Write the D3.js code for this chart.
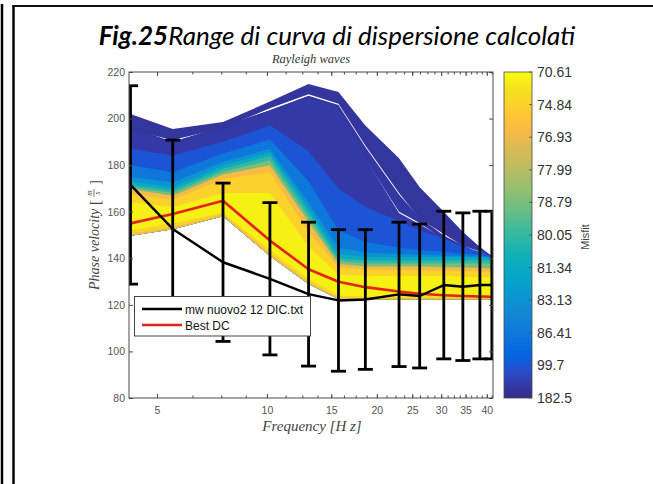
<!DOCTYPE html>
<html><head><meta charset="utf-8">
<script src="https://cdn.jsdelivr.net/npm/d3@7"></script>
<style>
html,body{margin:0;padding:0;background:#fff;}
svg{display:block;}
</style></head><body>
<svg id="chart" width="653" height="484"></svg>
<script>
// ---- data -------------------------------------------------------------
// sampled frequencies (Hz) of the experimental curve and the modelled curves
const frequencies = [4.23, 5.52, 7.58, 10.19, 13.0, 15.7, 18.6, 23.0, 26.2, 30.5, 34.4, 38.3, 41.3];
// experimental dispersion curve (mean +/- std), m/s
const dcMean = [171.5, 152.6, 138.3, 131.2, 124.6, 121.9, 122.3, 124.5, 123.8, 128.5, 127.8, 128.5, 128.5];
const dcStd  = [42.6, 38.2, 34.0, 32.7, 30.9, 30.4, 30.0, 31.0, 30.9, 31.7, 31.7, 31.7, 31.7];
// best fitting theoretical curve
const bestDC = [155.0, 159.0, 164.7, 147.6, 135.3, 129.9, 127.6, 125.7, 124.8, 124.1, 123.8, 123.6, 123.5];

// envelopes of the computed curves, grouped by misfit
const fanTopEdge     = [202.0, 195.5, 198.5, 207.3, 214.8, 211.4, 197.0, 183.0, 170.5, 160.0, 151.3, 144.8, 141.0];
const fanOuterLower  = [195.0, 190.8, 196.0, 204.4, 210.4, 206.4, 188.4, 168.0, 157.0, 150.4, 145.4, 142.9, 140.2];
const fanBodyTop     = [196.0, 190.0, 196.5, 203.6, 209.8, 205.8, 187.8, 167.4, 157.4, 149.8, 145.6, 142.4, 140.3];
const fanBundleLower = [195.0, 189.0, 195.5, 202.6, 208.6, 204.6, 182.5, 160.0, 155.2, 148.0, 143.5, 141.3, 139.0];
const fanInnerTop    = [196.0, 190.0, 196.5, 203.6, 209.6, 205.6, 183.0, 159.4, 154.6, 148.5, 144.0, 141.8, 139.4];
const fanBottom      = [149.7, 152.5, 158.0, 141.0, 129.0, 122.5, 122.3, 122.3, 122.3, 122.3, 122.3, 122.3, 122.3];
const top99_7  = [187.0, 184.0, 190.0, 197.0, 186.0, 170.0, 162.0, 156.0, 152.0, 148.5, 145.0, 142.8, 140.8];
const top86_41 = [180.0, 177.0, 185.0, 191.0, 173.0, 152.0, 147.0, 144.5, 143.5, 142.8, 142.0, 141.5, 140.6];
const top83_13 = [175.0, 172.5, 181.5, 187.0, 164.0, 144.5, 142.5, 141.8, 141.5, 141.2, 141.0, 140.8, 140.4];
const top81_34 = [173.0, 170.5, 180.0, 185.5, 161.8, 142.0, 140.5, 140.5, 140.5, 140.5, 140.5, 140.3, 140.2];
const top80_05 = [171.5, 169.2, 178.5, 184.0, 159.8, 140.0, 139.0, 139.0, 139.0, 139.0, 139.0, 139.2, 139.2];
const top78_79 = [170.5, 168.0, 177.2, 182.0, 157.6, 138.8, 137.8, 137.8, 137.8, 137.8, 137.8, 137.8, 137.8];
const top76_5  = [169.8, 166.9, 176.0, 180.0, 155.6, 137.5, 136.5, 136.5, 136.5, 136.2, 136.0, 135.8, 135.5];
const top74_84 = [167.5, 165.0, 174.0, 177.0, 151.5, 136.0, 135.2, 135.0, 135.0, 134.8, 134.5, 134.3, 134.0];
const bot74_84 = [150.5, 153.3, 158.8, 142.0, 129.8, 123.0, 122.8, 122.8, 122.8, 122.8, 122.8, 122.8, 122.8];
const top71_5  = [164.0, 162.0, 168.0, 168.0, 145.0, 133.0, 132.5, 132.5, 132.5, 132.5, 132.0, 132.0, 132.0];
const bot71_5  = [152.0, 155.0, 159.5, 143.5, 131.0, 124.0, 123.5, 123.5, 123.5, 123.5, 123.5, 123.5, 123.5];

// misfit value, upper envelope, lower envelope (drawn worst first)
const fanLayers = [
  [150,   fanInnerTop, fanBottom],
  [155,   fanBodyTop, fanBundleLower],
  [160,   fanTopEdge, fanOuterLower],
  [99.7,  top99_7,  fanBottom],
  [86.41, top86_41, fanBottom],
  [83.13, top83_13, fanBottom],
  [81.34, top81_34, fanBottom],
  [80.05, top80_05, fanBottom],
  [78.79, top78_79, fanBottom],
  [76.5,  top76_5,  fanBottom],
  [74.84, top74_84, bot74_84],
  [71.5,  top71_5,  bot71_5]
];

// axis ticks
const xTicks = [5, 10, 15, 20, 25, 30, 35, 40];
const xMinorTicks = d3.range(5, 41.5, 1.25);
const yTicks = [80, 100, 120, 140, 160, 180, 200, 220];
const colorbarTicks = [70.61, 74.84, 76.93, 77.99, 78.79, 80.05, 81.34, 83.13, 86.41, 99.7, 182.5];

// parula colour map stops
const parulaStops = [
  [0.000, [53, 42, 135]], [0.063, [50, 67, 186]], [0.095, [32, 83, 212]], [0.127, [3, 99, 225]],
  [0.190, [13, 117, 220]], [0.254, [20, 133, 212]], [0.317, [9, 152, 209]], [0.381, [6, 167, 198]],
  [0.444, [21, 177, 180]], [0.508, [56, 185, 158]], [0.571, [101, 190, 134]], [0.635, [146, 191, 115]],
  [0.698, [183, 189, 100]], [0.762, [217, 186, 86]], [0.825, [248, 187, 68]], [0.841, [253, 190, 61]],
  [0.889, [252, 206, 46]], [0.937, [245, 222, 33]], [0.968, [245, 235, 24]], [1.000, [249, 251, 14]]
];

// ---- scales -----------------------------------------------------------
const svg = d3.select('#chart');
const plot = {left: 129, right: 493, top: 72, bottom: 398};
const x = d3.scaleLog().domain([4.19, 41.6]).range([plot.left, plot.right]);
const y = d3.scaleLinear().domain([80, 220]).range([plot.bottom, plot.top]);
const parula = d3.scaleLinear()
  .domain(parulaStops.map(s => s[0]))
  .range(parulaStops.map(s => d3.rgb(...s[1])))
  .interpolate(d3.interpolateRgb);
// the colour bar has equally spaced ticks, so misfit maps piecewise onto it
const misfitPos = d3.scaleLinear()
  .domain(colorbarTicks)
  .range(colorbarTicks.map((d, i) => 1 - i / (colorbarTicks.length - 1)));
const misfitColor = m => parula(misfitPos(m));

// ---- page frame -------------------------------------------------------
svg.append('rect').attr('x', 0).attr('y', 0).attr('width', 653).attr('height', 484).attr('fill', '#fff');
svg.append('line').attr('x1', 2).attr('x2', 2).attr('y1', 4).attr('y2', 484).attr('stroke', '#000').attr('stroke-width', 2.5);
svg.append('line').attr('x1', 13.5).attr('x2', 13.5).attr('y1', 5).attr('y2', 484).attr('stroke', '#000').attr('stroke-width', 2.5);
svg.append('line').attr('x1', 12.3).attr('x2', 653).attr('y1', 6).attr('y2', 6).attr('stroke', '#111').attr('stroke-width', 2);

// heading
const head = svg.append('text').attr('x', 337).attr('y', 45).attr('text-anchor', 'middle')
  .attr('font-family', 'Lato, "Open Sans", sans-serif').attr('font-style', 'italic').attr('font-size', 26).attr('fill', '#000');
head.append('tspan').attr('font-weight', 'bold').text('Fig.25');
head.append('tspan').text('Range di curva di dispersione calcolati');

// ---- plot area ----------------------------------------------------------
svg.append('defs').append('clipPath').attr('id', 'plotClip')
  .append('rect').attr('x', plot.left).attr('y', plot.top)
  .attr('width', plot.right - plot.left).attr('height', plot.bottom - plot.top);
const g = svg.append('g').attr('clip-path', 'url(#plotClip)');

const idx = d3.range(frequencies.length);
const area = (top, bottom) => d3.area()
  .x(i => x(frequencies[i]))
  .y0(i => y(bottom[i]))
  .y1(i => y(top[i]))(idx);

fanLayers.forEach(([misfit, top, bottom]) => {
  g.append('path').attr('d', area(top, bottom)).attr('fill', misfitColor(misfit));
});

const line = vals => d3.line().x(i => x(frequencies[i])).y(i => y(vals[i]))(idx);

// best DC
g.append('path').attr('d', line(bestDC)).attr('fill', 'none')
  .attr('stroke', '#e2231a').attr('stroke-width', 2.6).attr('stroke-linejoin', 'round');

// experimental curve with error bars
g.append('path').attr('d', line(dcMean)).attr('fill', 'none')
  .attr('stroke', '#000').attr('stroke-width', 2.4).attr('stroke-linejoin', 'round');
const capHalf = 7.5;
idx.forEach(i => {
  const xf = x(frequencies[i]);
  const yTop = y(dcMean[i] + dcStd[i]), yBot = y(dcMean[i] - dcStd[i]);
  const eb = g.append('g').attr('stroke', '#000').attr('stroke-width', 2.8);
  eb.append('line').attr('x1', xf).attr('x2', xf).attr('y1', yTop).attr('y2', yBot);
  eb.append('line').attr('x1', xf - capHalf).attr('x2', xf + capHalf).attr('y1', yTop).attr('y2', yTop);
  eb.append('line').attr('x1', xf - capHalf).attr('x2', xf + capHalf).attr('y1', yBot).attr('y2', yBot);
});

// ---- axes -------------------------------------------------------------
const axisColor = '#4a4a4a';
const tickFont = 'Liberation Sans, Arial, sans-serif';
function styleAxis(sel, showLabels) {
  sel.select('.domain').remove();
  sel.selectAll('line').attr('stroke', axisColor).attr('stroke-width', 1);
  sel.selectAll('text').attr('fill', '#555').attr('font-family', tickFont).attr('font-size', 10.5);
  if (!showLabels) sel.selectAll('text').remove();
}
const fmt = d3.format('d');
svg.append('g').attr('transform', `translate(0,${plot.bottom})`)
  .call(d3.axisBottom(x).tickValues(xTicks).tickFormat(fmt).tickSizeInner(-4).tickSizeOuter(0).tickPadding(9))
  .call(s => styleAxis(s, true));
svg.append('g').attr('transform', `translate(0,${plot.bottom})`)
  .call(d3.axisBottom(x).tickValues(xMinorTicks).tickFormat('').tickSizeInner(-2.5).tickSizeOuter(0))
  .call(s => styleAxis(s, false));
svg.append('g').attr('transform', `translate(0,${plot.top})`)
  .call(d3.axisTop(x).tickValues(xTicks).tickFormat('').tickSizeInner(-4).tickSizeOuter(0))
  .call(s => styleAxis(s, false));
svg.append('g').attr('transform', `translate(0,${plot.top})`)
  .call(d3.axisTop(x).tickValues(xMinorTicks).tickFormat('').tickSizeInner(-2.5).tickSizeOuter(0))
  .call(s => styleAxis(s, false));
svg.append('g').attr('transform', `translate(${plot.left},0)`)
  .call(d3.axisLeft(y).tickValues(yTicks).tickFormat(fmt).tickSizeInner(-4).tickSizeOuter(0).tickPadding(4))
  .call(s => styleAxis(s, true));
svg.append('g').attr('transform', `translate(${plot.right},0)`)
  .call(d3.axisRight(y).tickValues(yTicks).tickFormat('').tickSizeInner(-4).tickSizeOuter(0))
  .call(s => styleAxis(s, false));
svg.append('rect').attr('x', plot.left).attr('y', plot.top)
  .attr('width', plot.right - plot.left).attr('height', plot.bottom - plot.top)
  .attr('fill', 'none').attr('stroke', axisColor).attr('stroke-width', 1);

// axis titles (italic serif, LaTeX style)
const serif = '"Liberation Serif", "DejaVu Serif", serif';
svg.append('text').attr('x', 311).attr('y', 63).attr('text-anchor', 'middle')
  .attr('font-family', serif).attr('font-style', 'italic').attr('font-size', 12.5).attr('fill', '#333')
  .text('Rayleigh waves');
svg.append('text').attr('x', 312).attr('y', 431).attr('text-anchor', 'middle')
  .attr('font-family', serif).attr('font-style', 'italic').attr('font-size', 15).attr('fill', '#444')
  .text('Frequency [H z]');
const yl = svg.append('g').attr('transform', 'translate(99,235) rotate(-90)')
  .attr('font-family', serif).attr('font-style', 'italic').attr('fill', '#444');
yl.append('text').attr('x', -55).attr('y', 0).attr('font-size', 14).text('Phase velocity');
yl.append('text').attr('x', 30).attr('y', 1).attr('font-size', 15).attr('font-style', 'normal').text('[');
yl.append('text').attr('x', 42).attr('y', -7).attr('text-anchor', 'middle').attr('font-size', 7.5).text('m');
yl.append('line').attr('x1', 38).attr('x2', 46).attr('y1', -5).attr('y2', -5).attr('stroke', '#444').attr('stroke-width', 0.7);
yl.append('text').attr('x', 42).attr('y', 1).attr('text-anchor', 'middle').attr('font-size', 7.5).text('s');
yl.append('text').attr('x', 50).attr('y', 1).attr('font-size', 15).attr('font-style', 'normal').text(']');

// ---- legend -----------------------------------------------------------
const lg = svg.append('g');
lg.append('rect').attr('x', 134.5).attr('y', 296.5).attr('width', 176).attr('height', 39.5)
  .attr('fill', '#fff').attr('stroke', '#444').attr('stroke-width', 1);
const legendItems = [['mw nuovo2 12 DIC.txt', '#000'], ['Best DC', '#e2231a']];
legendItems.forEach(([label, color], i) => {
  const ly = 309 + i * 16;
  lg.append('line').attr('x1', 142).attr('x2', 182).attr('y1', ly).attr('y2', ly)
    .attr('stroke', color).attr('stroke-width', 2.6);
  lg.append('text').attr('x', 185).attr('y', ly + 4.5).attr('font-family', tickFont)
    .attr('font-size', 12).attr('fill', '#111').text(label);
});

// ---- colour bar -------------------------------------------------------
const cb = {x: 504, y: 72, w: 28, h: 326};
const grad = svg.select('defs').append('linearGradient').attr('id', 'parulaGrad')
  .attr('x1', 0).attr('y1', 1).attr('x2', 0).attr('y2', 0);
d3.range(0, 1.0001, 0.02).forEach(t => {
  grad.append('stop').attr('offset', t).attr('stop-color', parula(t));
});
svg.append('rect').attr('x', cb.x).attr('y', cb.y).attr('width', cb.w).attr('height', cb.h)
  .attr('fill', 'url(#parulaGrad)').attr('stroke', axisColor).attr('stroke-width', 0.8);
const cbScale = d3.scaleLinear().domain([0, 1]).range([cb.y + cb.h, cb.y]);
colorbarTicks.forEach(m => {
  const ty = cbScale(misfitPos(m));
  svg.append('line').attr('x1', cb.x + cb.w - 3).attr('x2', cb.x + cb.w).attr('y1', ty).attr('y2', ty)
    .attr('stroke', axisColor).attr('stroke-width', 0.8);
  svg.append('text').attr('x', cb.x + cb.w + 5).attr('y', ty + 5).attr('font-family', tickFont)
    .attr('font-size', 14).attr('fill', '#333').text(m);
});
svg.append('text').attr('transform', 'translate(589,237) rotate(-90)').attr('text-anchor', 'middle')
  .attr('font-family', tickFont).attr('font-size', 11).attr('fill', '#444').text('Misfit');
</script>
</body></html>
